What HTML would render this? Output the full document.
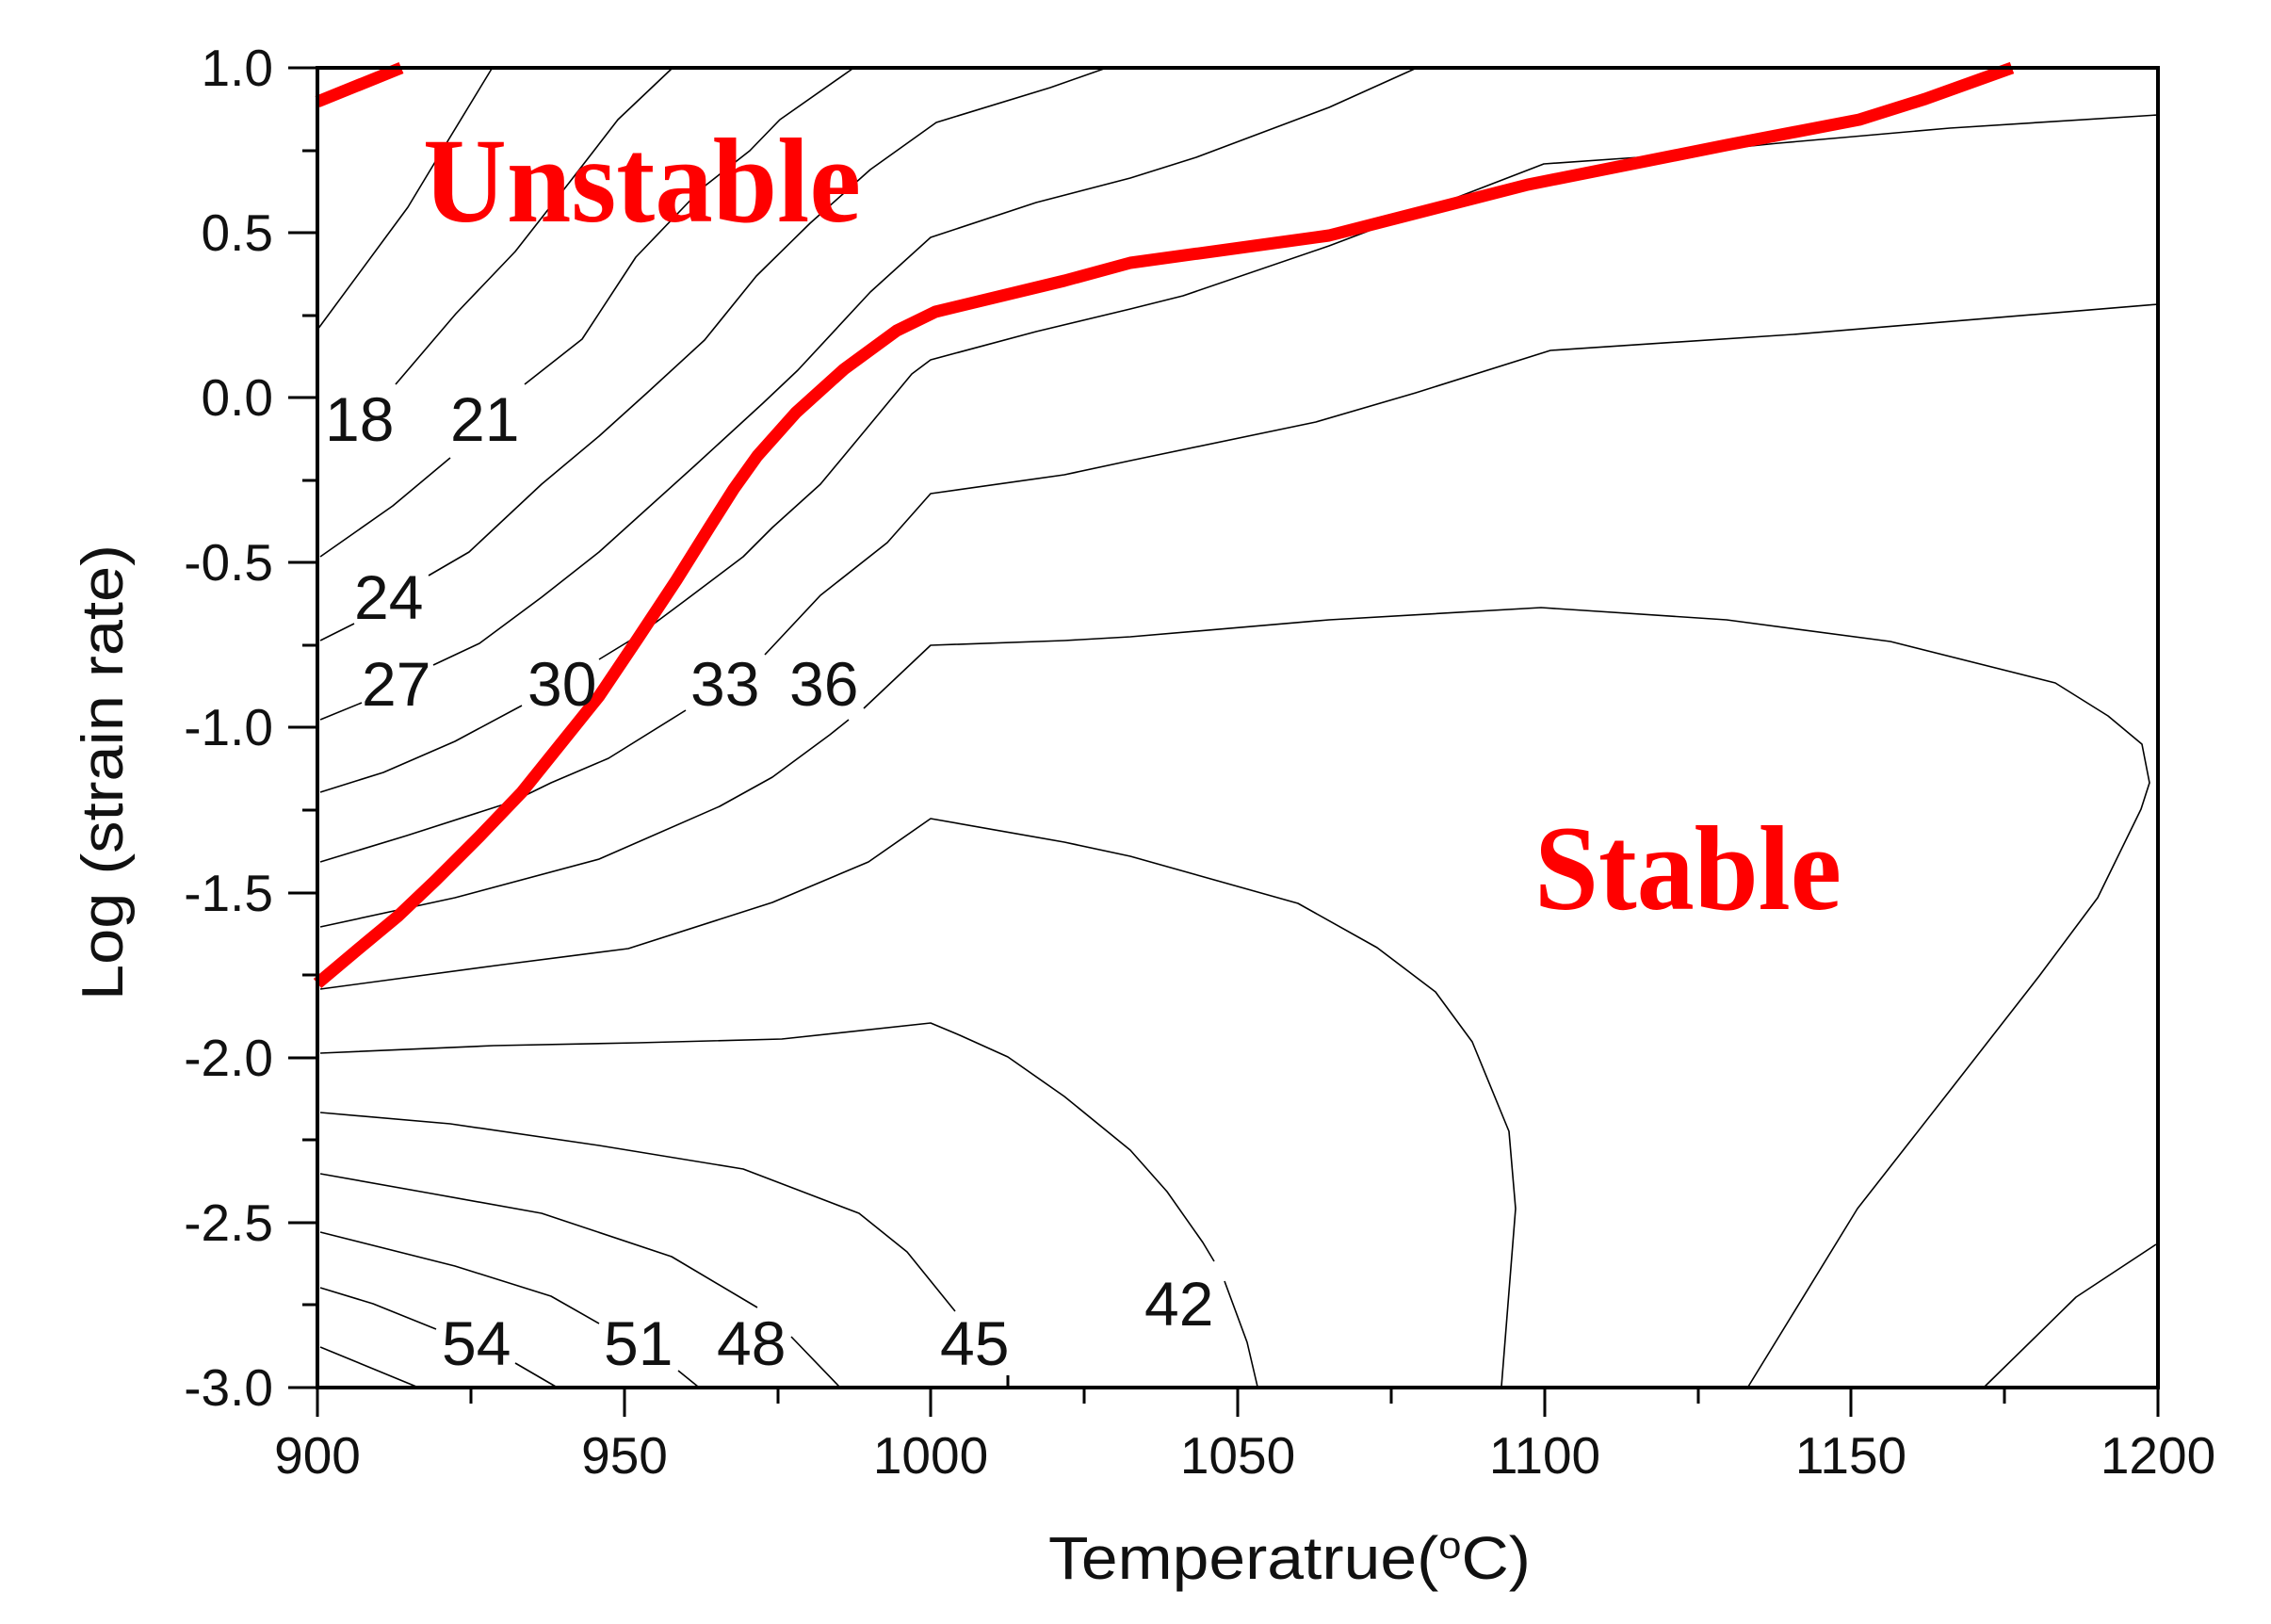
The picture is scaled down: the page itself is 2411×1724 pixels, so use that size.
<!DOCTYPE html>
<html><head><meta charset="utf-8"><style>
html,body{margin:0;padding:0;background:#fff;}
svg{display:block;}
</style></head><body>
<svg width="2411" height="1724" viewBox="0 0 2411 1724" xmlns="http://www.w3.org/2000/svg">
<rect width="2411" height="1724" fill="#fff"/>
<g fill="none" stroke="#000" stroke-width="1.6" stroke-linejoin="round">
<polyline points="337,350 433,220 477,147 522,73"/>
<polyline points="420,408 484,333 547,267 605,193 656,127 713,73"/>
<polyline points="340,591 417,537 478,486"/>
<polyline points="557,408 618,360 675,273 745,200 796,160 828,127 905,73"/>
<polyline points="340,680 376,662"/>
<polyline points="455,611 498,586 575,514 636,463 687,417 748,361 803,293 860,237 924,180 994,130 1115,93 1172,73"/>
<polyline points="340,764 384,746"/>
<polyline points="460,706 509,683 575,634 636,586 687,540 738,494 810,428 847,393 924,310 988,252 1100,215 1200,189 1270,167 1411,114 1502,73"/>
<polyline points="340,841 407,820 483,787 554,749"/>
<polyline points="636,700 677,675 728,637 789,591 820,560 871,514 920,455 968,397 988,382 1100,352 1200,328 1256,314 1411,261 1530,216 1639,174 1740,167 1888,152 2070,136 2291,122"/>
<polyline points="340,915 432,887 544,851 585,831 646,805 728,754"/>
<polyline points="812,695 871,632 942,576 988,524 1130,504 1200,489 1397,448 1503,417 1646,372 1904,355 2291,323"/>
<polyline points="340,984 483,953 636,912 764,856 820,825 881,780 901,764"/>
<polyline points="917,752 988,685 1130,680 1200,676 1411,658 1636,645 1833,658 2007,681 2182,725 2238,760 2274,790 2282,831 2273,859 2227,953 2165,1036 2073,1154 1972,1283 1856,1472"/>
<polyline points="340,1050 534,1024 667,1007 820,958 922,915 988,869 1130,894 1200,909 1378,959 1462,1006 1524,1053 1563,1106 1602,1201 1609,1283 1594,1472"/>
<polyline points="340,1118 524,1110 677,1107 830,1103 988,1086 1019,1099 1070,1122 1130,1164 1200,1221 1239,1265 1277,1319 1289,1339"/>
<polyline points="1300,1360 1324,1425 1335,1472"/>
<polyline points="340,1181 478,1193 636,1216 789,1241 912,1288 963,1329 1014,1392"/>
<polyline points="340,1246 458,1267 575,1288 713,1334 804,1388"/>
<polyline points="840,1419 891,1472"/>
<polyline points="340,1308 483,1344 585,1376 636,1405"/>
<polyline points="720,1455 741,1472"/>
<polyline points="340,1367 396,1384 463,1411"/>
<polyline points="547,1447 590,1472"/>
<polyline points="340,1430 442,1472"/>
<polyline points="2289,1321 2204,1377 2107,1472"/>
</g>
<g fill="none" stroke="#ff0000" stroke-width="13" stroke-linejoin="round" stroke-linecap="butt">
<polyline points="337,108 426,72"/>
<polyline points="337,1044 381,1007 422,973 463,934 509,888 554,841 595,790 636,739 677,678 718,616 753,560 779,519 804,484 845,438 896,392 952,351 993,331 1130,298 1200,279 1411,250 1622,196 1833,154 1974,127 2044,105 2136,72"/>
</g>
<g stroke="#000" stroke-width="4" fill="none">
<rect x="337" y="72" width="1954" height="1401"/>
</g>
<g stroke="#000" stroke-width="3">
<line x1="306" y1="72" x2="337" y2="72"/><line x1="321" y1="160" x2="337" y2="160"/>
<line x1="306" y1="247" x2="337" y2="247"/><line x1="321" y1="335" x2="337" y2="335"/>
<line x1="306" y1="422" x2="337" y2="422"/><line x1="321" y1="510" x2="337" y2="510"/>
<line x1="306" y1="597" x2="337" y2="597"/><line x1="321" y1="685" x2="337" y2="685"/>
<line x1="306" y1="772" x2="337" y2="772"/><line x1="321" y1="860" x2="337" y2="860"/>
<line x1="306" y1="948" x2="337" y2="948"/><line x1="321" y1="1035" x2="337" y2="1035"/>
<line x1="306" y1="1123" x2="337" y2="1123"/><line x1="321" y1="1210" x2="337" y2="1210"/>
<line x1="306" y1="1298" x2="337" y2="1298"/><line x1="321" y1="1385" x2="337" y2="1385"/>
<line x1="306" y1="1473" x2="337" y2="1473"/>
<line x1="337" y1="1473" x2="337" y2="1504"/><line x1="500" y1="1473" x2="500" y2="1490"/>
<line x1="663" y1="1473" x2="663" y2="1504"/><line x1="826" y1="1473" x2="826" y2="1490"/>
<line x1="988" y1="1473" x2="988" y2="1504"/><line x1="1151" y1="1473" x2="1151" y2="1490"/>
<line x1="1314" y1="1473" x2="1314" y2="1504"/><line x1="1477" y1="1473" x2="1477" y2="1490"/>
<line x1="1640" y1="1473" x2="1640" y2="1504"/><line x1="1803" y1="1473" x2="1803" y2="1490"/>
<line x1="1965" y1="1473" x2="1965" y2="1504"/><line x1="2128" y1="1473" x2="2128" y2="1490"/>
<line x1="2291" y1="1473" x2="2291" y2="1504"/>
<line x1="1070" y1="1473" x2="1070" y2="1460"/>
</g>
<g font-family="Liberation Sans, Arial, sans-serif" font-size="55" fill="#111" text-anchor="end">
<text x="290" y="91">1.0</text><text x="290" y="266">0.5</text><text x="290" y="441">0.0</text>
<text x="290" y="616">-0.5</text><text x="290" y="791">-1.0</text><text x="290" y="967">-1.5</text>
<text x="290" y="1142">-2.0</text><text x="290" y="1317">-2.5</text><text x="290" y="1492">-3.0</text>
</g>
<g font-family="Liberation Sans, Arial, sans-serif" font-size="55" fill="#111" text-anchor="middle">
<text x="337" y="1564">900</text><text x="663" y="1564">950</text><text x="988" y="1564">1000</text>
<text x="1314" y="1564">1050</text><text x="1640" y="1564">1100</text><text x="1965" y="1564">1150</text>
<text x="2291" y="1564">1200</text>
</g>
<g font-family="Liberation Sans, Arial, sans-serif" font-size="66" fill="#111">
<text x="345" y="468">18</text><text x="478" y="468">21</text>
<text x="376" y="657">24</text><text x="384" y="749">27</text><text x="560" y="749">30</text>
<text x="733" y="749">33</text><text x="838" y="749">36</text>
<text x="469" y="1449">54</text><text x="641" y="1449">51</text><text x="761" y="1449">48</text>
<text x="998" y="1449">45</text><text x="1215" y="1407">42</text>
</g>
<text x="1113" y="1676" font-family="Liberation Sans, Arial, sans-serif" font-size="64" fill="#111" textLength="512" lengthAdjust="spacingAndGlyphs">Temperatrue(<tspan font-size="40" dy="-22">o</tspan><tspan dy="22">C)</tspan></text>
<text transform="translate(130,1062) rotate(-90)" font-family="Liberation Sans, Arial, sans-serif" font-size="62" fill="#111" textLength="484" lengthAdjust="spacingAndGlyphs">Log (strain rate)</text>
<text x="449" y="235" font-family="Liberation Serif, Times New Roman, serif" font-weight="bold" font-size="128" fill="#ff0000" textLength="465" lengthAdjust="spacingAndGlyphs">Unstable</text>
<text x="1629" y="965" font-family="Liberation Serif, Times New Roman, serif" font-weight="bold" font-size="128" fill="#ff0000" textLength="326" lengthAdjust="spacingAndGlyphs">Stable</text>
</svg>
</body></html>
